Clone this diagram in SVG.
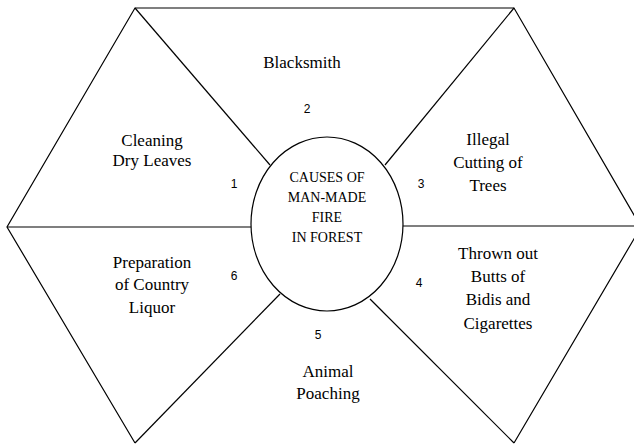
<svg xmlns="http://www.w3.org/2000/svg" width="634" height="445" viewBox="0 0 634 445">
<style>
.ln{stroke:#000;stroke-width:1.2;fill:none}
.lbl{font-family:'Liberation Serif','Tinos','Times New Roman','DejaVu Serif',serif;font-size:17px;fill:#000;text-anchor:middle}
.ctr{font-family:'Liberation Serif','Tinos','Times New Roman','DejaVu Serif',serif;font-size:14px;fill:#000;text-anchor:middle}
.num{font-family:'Liberation Sans',Arial,sans-serif;font-size:12px;fill:#000;text-anchor:middle}
</style>
<rect width="634" height="445" fill="#fff"/>
<g id="connectors">
<polyline class="ln" points="135,443 7,227 135,8 514,8 641,227 514,443"/>
<line class="ln" x1="135" y1="8" x2="270" y2="165"/>
<line class="ln" x1="514" y1="8" x2="385" y2="165"/>
<line class="ln" x1="7" y1="227" x2="251" y2="227"/>
<line class="ln" x1="403" y1="226" x2="641" y2="226"/>
<line class="ln" x1="135" y1="443" x2="280" y2="294"/>
<line class="ln" x1="514" y1="443" x2="370" y2="299"/>
</g>
<g id="center">
<ellipse class="ln" cx="327" cy="224" rx="76" ry="87" fill="#fff"/>
<text class="ctr" x="327" y="182">CAUSES OF</text>
<text class="ctr" x="327" y="202">MAN-MADE</text>
<text class="ctr" x="327" y="222">FIRE</text>
<text class="ctr" x="327" y="242">IN FOREST</text>
</g>
<g id="node1">
<text class="lbl" x="152" y="146">Cleaning</text>
<text class="lbl" x="152" y="166">Dry Leaves</text>
<text class="num" x="234" y="188">1</text>
</g>
<g id="node2">
<text class="lbl" x="302" y="68">Blacksmith</text>
<text class="num" x="307" y="113">2</text>
</g>
<g id="node3">
<text class="lbl" x="488" y="145">Illegal</text>
<text class="lbl" x="488" y="168">Cutting of</text>
<text class="lbl" x="488" y="191">Trees</text>
<text class="num" x="421" y="188">3</text>
</g>
<g id="node4">
<text class="lbl" x="498" y="259">Thrown out</text>
<text class="lbl" x="498" y="282">Butts of</text>
<text class="lbl" x="498" y="305">Bidis and</text>
<text class="lbl" x="498" y="329">Cigarettes</text>
<text class="num" x="419" y="287">4</text>
</g>
<g id="node5">
<text class="num" x="318" y="339">5</text>
<text class="lbl" x="328" y="377">Animal</text>
<text class="lbl" x="328" y="399">Poaching</text>
</g>
<g id="node6">
<text class="lbl" x="152" y="268">Preparation</text>
<text class="lbl" x="152" y="290">of Country</text>
<text class="lbl" x="152" y="313">Liquor</text>
<text class="num" x="234" y="280">6</text>
</g>
</svg>
